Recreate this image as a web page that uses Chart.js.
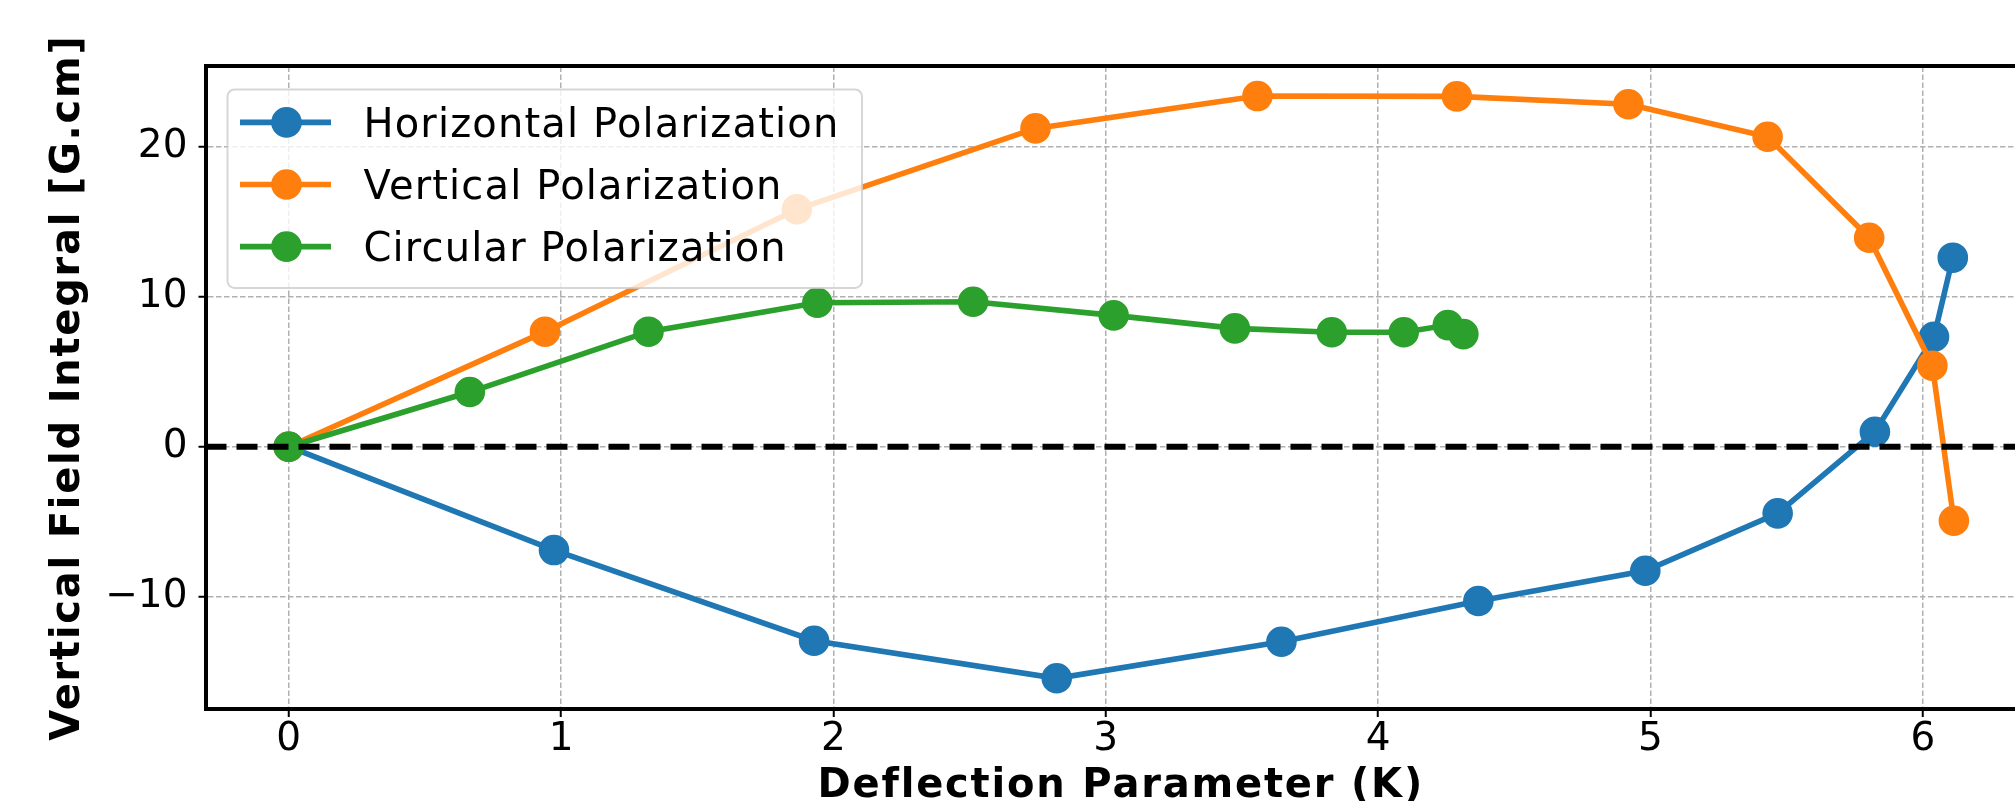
<!DOCTYPE html>
<html>
<head>
<meta charset="utf-8">
<title>Vertical Field Integral vs Deflection Parameter</title>
<script src="https://cdn.jsdelivr.net/npm/chart.js@4.4.1/dist/chart.umd.min.js"></script>
<style>
  html, body { margin: 0; padding: 0; background: #ffffff; overflow: hidden; }
  #wrap { width: 2015px; height: 801px; overflow: hidden; position: relative; }
  canvas { display: block; }
</style>
</head>
<body>
<div id="wrap"><canvas id="chart" width="2060" height="820"></canvas></div>
<script>
// Deflection parameter K for each measurement series
const kHorizontal = [0, 0.974, 1.929, 2.820, 3.645, 4.368, 4.981, 5.467, 5.824, 6.041, 6.110];
const kVertical   = [0, 0.941, 1.866, 2.742, 3.557, 4.289, 4.919, 5.430, 5.803, 6.035, 6.114];
const kCircular   = [0, 0.665, 1.321, 1.941, 2.513, 3.029, 3.474, 3.830, 4.094, 4.256, 4.313];

// Vertical field integral [G.cm]
const fieldHorizontal = [0, -6.90, -12.95, -15.46, -13.02, -10.30, -8.28, -4.45, 1.00, 7.34, 12.62];
const fieldVertical   = [0, 7.68, 15.85, 21.25, 23.41, 23.39, 22.86, 20.69, 13.95, 5.41, -4.94];
const fieldCircular   = [0, 3.65, 7.68, 9.61, 9.68, 8.77, 7.90, 7.64, 7.64, 8.12, 7.52];

const seriesLabels = ['Horizontal Polarization', 'Vertical Polarization', 'Circular Polarization'];
const seriesColors = ['#1f77b4', '#ff7f0e', '#2ca02c'];

// Tick labels
const xTickValues = [0, 1, 2, 3, 4, 5, 6];
const yTickValues = [-10, 0, 10, 20];

// Axis ranges
const xRange = [-0.3055, 6.4155];
const yRange = [-17.51, 25.39];

const FONT = "'DejaVu Sans', 'Liberation Sans', sans-serif";

function toPoints(xs, ys) {
  return xs.map((x, i) => ({ x: x, y: ys[i] }));
}

function makeSeries(idx, xs, ys) {
  return {
    label: seriesLabels[idx],
    data: toPoints(xs, ys),
    showLine: true,
    borderColor: seriesColors[idx],
    backgroundColor: seriesColors[idx],
    borderWidth: 5.6,
    pointRadius: 13.9,
    pointHoverRadius: 13.9,
    pointBorderWidth: 2.8,
    pointBorderColor: seriesColors[idx],
    pointBackgroundColor: seriesColors[idx],
    tension: 0,
    order: 3 - idx
  };
}

// Axis titles are drawn with a little extra tracking
function spacedTitle(scale, spacing) {
  if (scale._spacedTitle) return;
  const original = scale.drawTitle;
  scale.drawTitle = function () {
    const ctx = this.ctx;
    ctx.save();
    ctx.letterSpacing = spacing;
    original.call(this);
    ctx.restore();
  };
  scale._spacedTitle = true;
}

// Dashed reference line at zero field
const zeroLinePlugin = {
  id: 'zeroLine',
  afterDatasetsDraw(chart) {
    const { ctx, chartArea, scales } = chart;
    const y = scales.y.getPixelForValue(0);
    ctx.save();
    ctx.beginPath();
    ctx.rect(chartArea.left, chartArea.top, chartArea.right - chartArea.left, chartArea.bottom - chartArea.top);
    ctx.clip();
    ctx.strokeStyle = '#000000';
    ctx.lineWidth = 6;
    ctx.lineCap = 'butt';
    ctx.setLineDash([21, 10]);
    ctx.lineDashOffset = 0;
    ctx.beginPath();
    ctx.moveTo(chartArea.left, y);
    ctx.lineTo(chartArea.right, y);
    ctx.stroke();
    ctx.restore();
  }
};

// Framed legend in the upper-left corner of the plot area
const framedLegendPlugin = {
  id: 'framedLegend',
  afterDraw(chart) {
    const { ctx, chartArea } = chart;
    const bx = chartArea.left + 22;
    const by = chartArea.top + 23;
    const bw = 634.5;
    const bh = 198.5;
    ctx.save();
    ctx.beginPath();
    ctx.roundRect(bx, by, bw, bh, 7);
    ctx.fillStyle = 'rgba(255,255,255,0.8)';
    ctx.fill();
    ctx.lineWidth = 2;
    ctx.strokeStyle = 'rgba(204,204,204,0.8)';
    ctx.stroke();

    chart.data.datasets.forEach((ds, i) => {
      const cy = by + 33 + i * 62.1;
      ctx.setLineDash([]);
      ctx.strokeStyle = ds.borderColor;
      ctx.lineWidth = 5.6;
      ctx.beginPath();
      ctx.moveTo(bx + 12.5, cy);
      ctx.lineTo(bx + 103.5, cy);
      ctx.stroke();
      ctx.beginPath();
      ctx.arc(bx + 59, cy, 13.9, 0, Math.PI * 2);
      ctx.fillStyle = ds.backgroundColor;
      ctx.fill();
      ctx.lineWidth = 2.8;
      ctx.stroke();
      ctx.fillStyle = '#000000';
      ctx.font = '40px ' + FONT;
      ctx.letterSpacing = '1.15px';
      ctx.textAlign = 'left';
      ctx.textBaseline = 'alphabetic';
      ctx.fillText(ds.label, bx + 136, cy + 14.7);
      ctx.letterSpacing = '0px';
    });
    ctx.restore();
  }
};

const gridStyle = {
  color: '#b0b0b0',
  lineWidth: 1.5,
  tickColor: '#000000',
  tickWidth: 2,
  tickBorderDash: []
};

const minusSign = v => String(v).replace('-', '\u2212');

new Chart(document.getElementById('chart'), {
  type: 'scatter',
  data: {
    datasets: [
      makeSeries(0, kHorizontal, fieldHorizontal),
      makeSeries(1, kVertical, fieldVertical),
      makeSeries(2, kCircular, fieldCircular)
    ]
  },
  options: {
    responsive: false,
    animation: false,
    devicePixelRatio: 1,
    layout: { padding: { left: 0, top: 66.4, right: 24, bottom: 0 } },
    plugins: {
      legend: { display: false },
      tooltip: { enabled: false }
    },
    scales: {
      x: {
        type: 'linear',
        position: 'bottom',
        min: xRange[0],
        max: xRange[1],
        afterBuildTicks: s => { s.ticks = xTickValues.map(v => ({ value: v })); },
        afterFit: s => { s.height = 111; spacedTitle(s, '1.8px'); },
        grid: Object.assign({ tickLength: 8 }, gridStyle),
        border: { display: true, color: '#000000', width: 4, dash: [5.5, 2.5] },
        ticks: {
          color: '#000000',
          padding: 3.5,
          maxRotation: 0,
          autoSkip: false,
          font: { family: FONT, size: 39, lineHeight: 1 },
          callback: v => minusSign(v)
        },
        title: {
          display: true,
          text: 'Deflection Parameter (K)',
          color: '#000000',
          font: { family: FONT, size: 40, weight: 'bold', lineHeight: 1.2 },
          padding: { top: 0, bottom: 9.8 }
        }
      },
      x2: {
        type: 'linear',
        position: 'top',
        min: xRange[0],
        max: xRange[1],
        afterFit: s => { s.height = 0; },
        grid: { drawOnChartArea: false, drawTicks: false },
        border: { display: true, color: '#000000', width: 4 },
        ticks: { display: false }
      },
      y: {
        type: 'linear',
        position: 'left',
        min: yRange[0],
        max: yRange[1],
        afterBuildTicks: s => { s.ticks = yTickValues.map(v => ({ value: v })); },
        afterFit: s => { s.width = 205.5; spacedTitle(s, '1.75px'); },
        grid: Object.assign({ tickLength: 7 }, gridStyle),
        border: { display: true, color: '#000000', width: 4, dash: [5.5, 2.5] },
        ticks: {
          color: '#000000',
          padding: 11,
          autoSkip: false,
          font: { family: FONT, size: 39, lineHeight: 1 },
          callback: v => minusSign(v)
        },
        title: {
          display: true,
          text: 'Vertical Field Integral [G.cm]',
          color: '#000000',
          font: { family: FONT, size: 40, weight: 'bold', lineHeight: 1.2 },
          padding: { top: 44.2, bottom: 0 }
        }
      }
    }
  },
  plugins: [zeroLinePlugin, framedLegendPlugin]
});
</script>
</body>
</html>
